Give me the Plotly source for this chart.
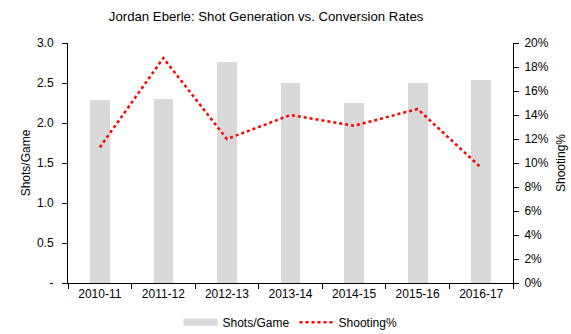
import plotly.graph_objects as go

seasons = ["2010-11", "2011-12", "2012-13", "2013-14", "2014-15", "2015-16", "2016-17"]
shots_per_game = [2.29, 2.30, 2.76, 2.50, 2.25, 2.50, 2.54]
shooting_pct = [0.113, 0.1875, 0.120, 0.140, 0.131, 0.145, 0.096]

left_ticks = [0, 0.5, 1.0, 1.5, 2.0, 2.5, 3.0]
left_tick_text = ["-", "0.5", "1.0", "1.5", "2.0", "2.5", "3.0"]
right_ticks = [i / 100 for i in range(0, 21, 2)]
right_tick_text = [f"{i}%" for i in range(0, 21, 2)]

FONT = "Liberation Sans, Arial, sans-serif"
BAR_COLOR = "#d9d9d9"

fig = go.Figure()
fig.add_trace(go.Bar(
    x=seasons, y=shots_per_game, name="Shots/Game",
    marker=dict(color=BAR_COLOR, line=dict(width=0)), width=0.31,
    yaxis="y", showlegend=False,
))
# legend proxy: wide grey swatch like the reference
fig.add_trace(go.Scatter(
    x=[None], y=[None], name="Shots/Game", mode="lines",
    line=dict(color=BAR_COLOR, width=7), yaxis="y",
))
fig.add_trace(go.Scatter(
    x=seasons, y=shooting_pct, name="Shooting%", mode="lines",
    line=dict(color="#ff0000", width=2.5, dash="dot"),
    yaxis="y2",
))

fig.update_layout(
    width=571, height=334,
    margin=dict(l=68, r=58, t=43, b=51, autoexpand=False),
    paper_bgcolor="white", plot_bgcolor="white",
    font=dict(family=FONT, size=12, color="#000000"),
    title=dict(text="Jordan Eberle: Shot Generation vs. Conversion Rates",
               x=0.466, xanchor="center", y=0.95, yanchor="middle",
               font=dict(size=13.2)),
    showlegend=True,
    legend=dict(orientation="h", x=0.5, xanchor="center",
                yref="container", y=0.035, yanchor="middle",
                font=dict(size=12), itemwidth=34),
    xaxis=dict(type="category", showline=True, linecolor="black", linewidth=1,
               ticks="outside", tickson="boundaries", ticklen=5, tickcolor="black",
               showgrid=False, tickfont=dict(size=12)),
    yaxis=dict(range=[0, 3.0], tickvals=left_ticks, ticktext=left_tick_text,
               showline=True, linecolor="black", linewidth=1,
               ticks="outside", ticklen=5, tickcolor="black", showgrid=False,
               zeroline=False, ticklabelstandoff=6,
               title=dict(text="Shots/Game", font=dict(size=12), standoff=3)),
    yaxis2=dict(range=[0, 0.20], tickvals=right_ticks, ticktext=right_tick_text,
                overlaying="y", side="right",
                showline=True, linecolor="black", linewidth=1,
                ticks="outside", ticklen=5, tickcolor="black", showgrid=False,
                zeroline=False, ticklabelstandoff=3,
                title=dict(text="Shooting%", font=dict(size=12), standoff=8)),
    bargap=0.0,
)

fig.write_html("out.html")
